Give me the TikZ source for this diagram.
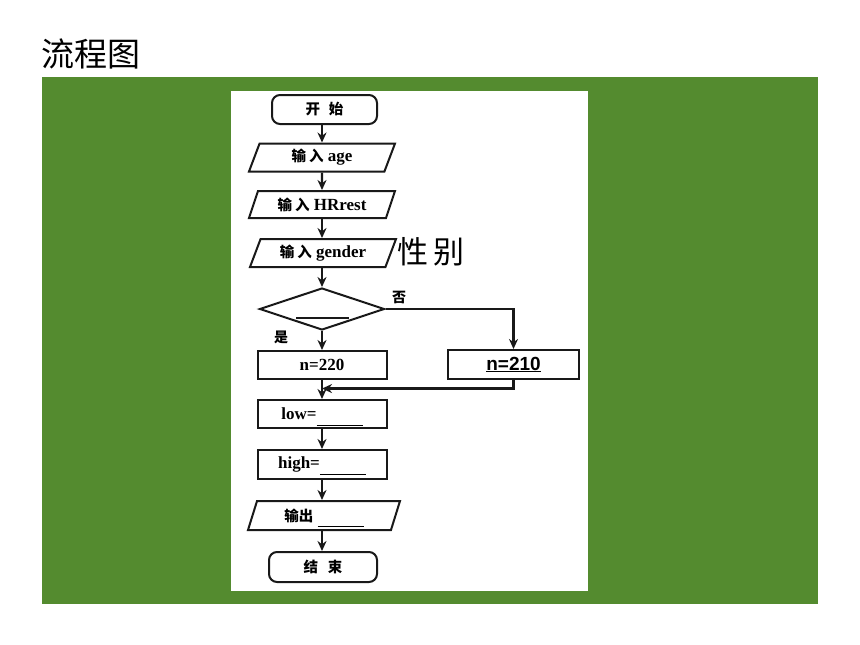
\documentclass[tikz,border=0pt]{standalone}
\usepackage{fontspec}
\setmainfont{Liberation Serif}
\newfontfamily\cjk{Noto Sans CJK SC}
\newfontfamily\sketchfont{Liberation Sans}
\usetikzlibrary{shapes.geometric,arrows.meta,calc}
\definecolor{bggreen}{RGB}{84,139,47}
\definecolor{ink}{RGB}{25,25,25}
\newcommand{\zh}[1]{{\cjk\fontsize{14.5}{16}\selectfont #1}}
\newcommand{\blankline}{\smash{\rule[-6pt]{46pt}{1pt}}}
\begin{document}
\begin{tikzpicture}[x=1pt,y=-1pt,
  box/.style={draw=ink, line width=2pt, minimum width=129pt, minimum height=28pt, inner sep=0pt, font=\fontsize{17}{19}\selectfont\bfseries},
  term/.style={box, rounded corners=8pt, minimum width=106pt},
  io/.style={box, trapezium, trapezium left angle=57, trapezium right angle=123, trapezium stretches body, minimum width=146pt},
  dec/.style={draw=ink, line width=2pt, diamond, minimum width=125pt, minimum height=42pt, inner sep=0pt},
  arr/.style={draw=ink, line width=2.2pt, -{Stealth[length=10pt,width=9pt]}},
  lbl/.style={font=\cjk\bfseries\fontsize{14}{16}\selectfont, inner sep=0pt}
]
\fill[white] (0,0) rectangle (860,645);
\useasboundingbox (0,0) rectangle (860,645);
\fill[bggreen] (42,77) rectangle (818,604);
\fill[white] (231,91) rectangle (588,591);
\node[font=\cjk\fontsize{33}{36}\selectfont, inner sep=0pt] (title) at (91,54) {流程图};

\node[term, minimum width=105pt, minimum height=29pt] (start) at (324.5,109.5) {\zh{开\hspace{9pt}始}};
\node[io] (age) at (322,157.5) {\zh{输\hspace{3pt}入}\ age};
\node[io, minimum height=27pt] (hr) at (322,204.5) {\zh{输\hspace{3pt}入}\ HRrest};
\node[io] (gen) at (323,253) {\zh{输\hspace{3pt}入}\ gender};
\node[font=\cjk\fontsize{31}{33}\selectfont, inner sep=0pt] (xb) at (431,252) {性\hspace{5pt}别};
\node[dec] (d) at (322,309) {};
\draw[line width=1.2pt, draw=ink] ($(d.center)+(-26,9)$) -- ++(53,0);
\node[box] (n220) at (322,365) {n=220};
\node[box, minimum width=131pt, minimum height=29pt] (n210) at (513.5,364.5) {\sketchfont\bfseries\fontsize{19}{21}\selectfont\underline{n=210}};
\node[box] (low) at (322,414) {low=\blankline};
\node[box, minimum height=29pt] (high) at (322,464.5) {high=\blankline};
\node[io, minimum width=152pt, minimum height=29pt] (out) at (324,515.5) {\zh{输出}\ \blankline};
\node[term, minimum width=108pt, minimum height=30pt] (end) at (323,567) {\zh{结\hspace{10pt}束}};

\node[lbl] (no) at (399,297) {否};
\node[lbl] (yes) at (281,337) {是};

\draw[arr] (age.north |- start.south) -- (age.north);
\draw[arr] (age.south) -- (hr.north);
\draw[arr] (hr.south) -- (hr.south |- gen.north);
\draw[arr] (d.north |- gen.south) -- (d.north);
\draw[arr] (d.south) -- (n220.north);
\draw[arr] (d.east) -| (n210.north);
\draw[arr] (n220.south) -- (low.north);
\coordinate (m) at ($(n220.south)!0.45!(low.north)$);
\draw[arr] (n210.south) |- (m);
\draw[arr] (low.south) -- (high.north);
\draw[arr] (high.south) -- (high.south |- out.north);
\draw[arr] (high.south |- out.south) -- (high.south |- end.north);
\end{tikzpicture}
\end{document}
